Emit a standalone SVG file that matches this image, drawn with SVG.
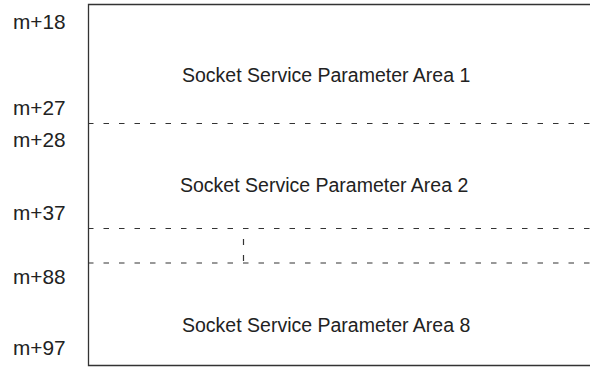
<svg xmlns="http://www.w3.org/2000/svg" width="590" height="367" viewBox="0 0 590 367">
<style>
.lbl{font-family:"Liberation Sans",Arial,sans-serif;font-size:19.5px;fill:#222}
.adr{font-family:"Liberation Sans",Arial,sans-serif;font-size:20.8px;fill:#222}
.box{fill:none;stroke:#333;stroke-width:1.3}
.dash{fill:none;stroke:#333;stroke-width:1.2;stroke-dasharray:5.5 10}
</style>
<rect width="590" height="367" fill="#fff"/>
<g id="addresses">
<text class="adr" x="13" y="29">m+18</text>
<text class="adr" x="13" y="115">m+27</text>
<text class="adr" x="13" y="147">m+28</text>
<text class="adr" x="13" y="220">m+37</text>
<text class="adr" x="13" y="284">m+88</text>
<text class="adr" x="13" y="355">m+97</text>
</g>
<g id="frame">
<path class="box" d="M600,4.5 H88.5 V365.5 H600"/>
</g>
<g id="area1"><text class="lbl" x="182" y="82">Socket Service Parameter Area 1</text></g>
<g id="area2"><text class="lbl" x="180" y="192">Socket Service Parameter Area 2</text></g>
<g id="area8"><text class="lbl" x="182" y="332">Socket Service Parameter Area 8</text></g>
<g id="connectors">
<path class="dash" d="M88,123.5 H590"/>
<path class="dash" d="M88,228.5 H590"/>
<path class="dash" d="M88,263 H590"/>
<path class="dash" d="M243.5,239 V261" style="stroke-dasharray:6 10"/>
</g>
</svg>
